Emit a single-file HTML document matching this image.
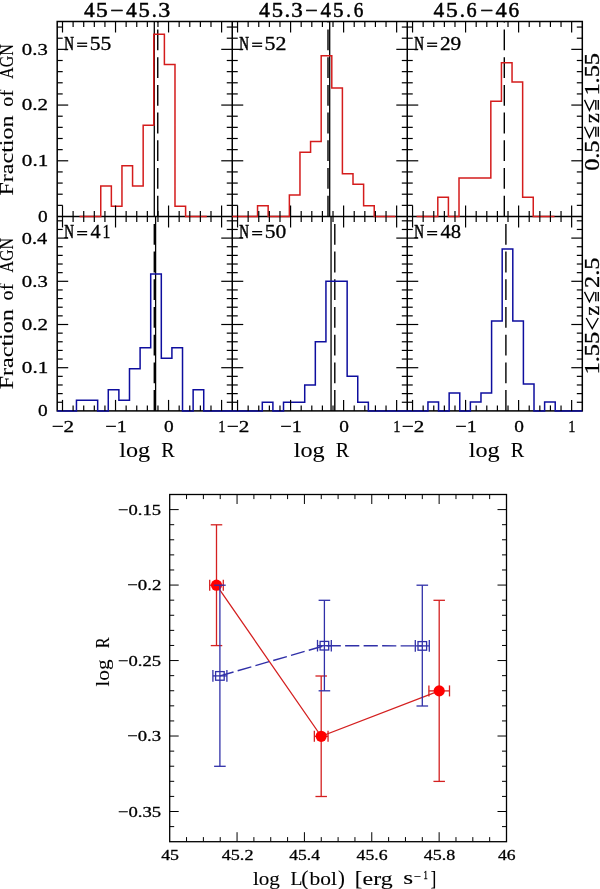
<!DOCTYPE html>
<html><head><meta charset="utf-8"><title>figure</title>
<style>
html,body{margin:0;padding:0;background:#fff;}
body{width:600px;height:889px;overflow:hidden;font-family:"Liberation Serif", serif;}
svg{display:block;will-change:transform;}
</style></head><body>
<svg width="600" height="889" viewBox="0 0 600 889" font-family="Liberation Serif, serif">
<rect x="0" y="0" width="600" height="889" fill="#fff"/>
<rect x="57.2" y="21.5" width="525.1" height="389.4" fill="none" stroke="#000" stroke-width="1.5"/>
<line x1="232.25" y1="21.5" x2="232.25" y2="410.9" stroke="#000" stroke-width="1.5"/>
<line x1="407.25" y1="21.5" x2="407.25" y2="410.9" stroke="#000" stroke-width="1.5"/>
<line x1="57.2" y1="216.5" x2="582.3" y2="216.5" stroke="#000" stroke-width="1.5"/>
<line x1="154.3" y1="216.5" x2="154.3" y2="21.5" stroke="#000" stroke-width="1.3"/>
<line x1="157.75" y1="216.5" x2="157.75" y2="21.5" stroke="#000" stroke-width="1.4" stroke-dasharray="20.8 6.9"/>
<line x1="328" y1="216.5" x2="328" y2="21.5" stroke="#000" stroke-width="1.4" stroke-dasharray="20.8 6.9"/>
<line x1="329.7" y1="216.5" x2="329.7" y2="21.5" stroke="#000" stroke-width="1.3"/>
<line x1="504.3" y1="216.5" x2="504.3" y2="21.5" stroke="#000" stroke-width="1.4" stroke-dasharray="20.8 6.9"/>
<line x1="154.3" y1="410.9" x2="154.3" y2="216.5" stroke="#000" stroke-width="1.4" stroke-dasharray="20.8 6.9"/>
<line x1="155.6" y1="410.9" x2="155.6" y2="216.5" stroke="#000" stroke-width="1.3"/>
<line x1="331.05" y1="410.9" x2="331.05" y2="216.5" stroke="#000" stroke-width="1.3"/>
<line x1="334.8" y1="410.9" x2="334.8" y2="216.5" stroke="#000" stroke-width="1.4" stroke-dasharray="20.8 6.9"/>
<line x1="505.9" y1="410.9" x2="505.9" y2="216.5" stroke="#000" stroke-width="1.4" stroke-dasharray="20.8 6.9"/>
<polyline points="79.54,216.5 100.75,216.5 100.75,186.11 111.36,186.11 111.36,186.11 111.36,206.37 121.96,206.37 121.96,206.37 121.96,165.85 132.57,165.85 132.57,165.85 132.57,186.11 143.17,186.11 143.17,186.11 143.17,125.33 153.78,125.33 153.78,125.33 153.78,34.16 164.39,34.16 164.39,34.16 164.39,64.55 174.99,64.55 174.99,64.55 174.99,206.37 185.6,206.37 185.6,206.37 185.6,216.5 196.2,216.5 196.2,216.5 196.2,216.5 206.81,216.5 206.81,216.5 206.81,216.5" fill="none" stroke="#d41c1c" stroke-width="1.5" stroke-linejoin="miter"/>
<polyline points="232.25,216.5 257.55,216.5 257.55,205.79 268.16,205.79 268.16,205.79 268.16,216.5 278.76,216.5 278.76,216.5 278.76,216.5 289.37,216.5 289.37,216.5 289.37,195.07 299.97,195.07 299.97,195.07 299.97,152.21 310.58,152.21 310.58,152.21 310.58,141.5 321.19,141.5 321.19,141.5 321.19,55.79 331.79,55.79 331.79,55.79 331.79,87.93 342.4,87.93 342.4,87.93 342.4,173.64 353,173.64 353,173.64 353,184.36 363.61,184.36 363.61,184.36 363.61,205.79 374.22,205.79 374.22,205.79 374.22,216.5 384.82,216.5 384.82,216.5 384.82,216.5 395.43,216.5 395.43,216.5 395.43,216.5" fill="none" stroke="#d41c1c" stroke-width="1.5" stroke-linejoin="miter"/>
<polyline points="416.59,216.5 437.8,216.5 437.8,197.29 448.41,197.29 448.41,197.29 448.41,216.5 459.01,216.5 459.01,216.5 459.01,178.08 469.62,178.08 469.62,178.08 469.62,178.08 480.22,178.08 480.22,178.08 480.22,178.08 490.83,178.08 490.83,178.08 490.83,101.23 501.44,101.23 501.44,101.23 501.44,62.81 512.04,62.81 512.04,62.81 512.04,82.02 522.65,82.02 522.65,82.02 522.65,197.29 533.25,197.29 533.25,197.29 533.25,216.5 543.86,216.5 543.86,216.5 543.86,216.5 554.47,216.5 554.47,216.5 554.47,216.5" fill="none" stroke="#d41c1c" stroke-width="1.5" stroke-linejoin="miter"/>
<polyline points="57.2,410.9 76.46,410.9 76.46,400.36 87.07,400.36 87.07,400.36 87.07,400.36 97.67,400.36 97.67,400.36 97.67,410.9 108.28,410.9 108.28,410.9 108.28,389.83 118.88,389.83 118.88,389.83 118.88,400.36 129.49,400.36 129.49,400.36 129.49,368.75 140.1,368.75 140.1,368.75 140.1,347.68 150.7,347.68 150.7,347.68 150.7,273.92 161.31,273.92 161.31,273.92 161.31,358.22 171.91,358.22 171.91,358.22 171.91,347.68 182.52,347.68 182.52,347.68 182.52,410.9 193.13,410.9 193.13,410.9 193.13,389.83 203.73,389.83 203.73,410.9 232.25,410.9" fill="none" stroke="#0e0e9e" stroke-width="1.5" stroke-linejoin="miter"/>
<polyline points="232.25,410.9 262.3,410.9 262.3,402.26 272.91,402.26 272.91,402.26 272.91,410.9 283.51,410.9 283.51,410.9 283.51,402.26 294.12,402.26 294.12,402.26 294.12,402.26 304.72,402.26 304.72,402.26 304.72,384.98 315.33,384.98 315.33,384.98 315.33,341.78 325.94,341.78 325.94,341.78 325.94,281.3 336.54,281.3 336.54,281.3 336.54,281.3 347.15,281.3 347.15,281.3 347.15,376.34 357.75,376.34 357.75,376.34 357.75,402.26 368.36,402.26 368.36,410.9 407.3,410.9" fill="none" stroke="#0e0e9e" stroke-width="1.5" stroke-linejoin="miter"/>
<polyline points="407.25,410.9 427.95,410.9 427.95,401.9 438.56,401.9 438.56,401.9 438.56,410.9 449.16,410.9 449.16,410.9 449.16,392.9 459.77,392.9 459.77,392.9 459.77,410.9 470.37,410.9 470.37,410.9 470.37,401.9 480.98,401.9 480.98,401.9 480.98,392.9 491.59,392.9 491.59,392.9 491.59,320.9 502.19,320.9 502.19,320.9 502.19,248.9 512.8,248.9 512.8,248.9 512.8,320.9 523.4,320.9 523.4,320.9 523.4,383.9 534.01,383.9 534.01,383.9 534.01,410.9 544.62,410.9 544.62,410.9 544.62,401.9 555.22,401.9 555.22,410.9 582.3,410.9" fill="none" stroke="#0e0e9e" stroke-width="1.5" stroke-linejoin="miter"/>
<line x1="62.5" y1="21.5" x2="62.5" y2="32.5" stroke="#000" stroke-width="1.2"/>
<line x1="62.5" y1="216.5" x2="62.5" y2="205.5" stroke="#000" stroke-width="1.2"/>
<line x1="73.11" y1="21.5" x2="73.11" y2="27" stroke="#000" stroke-width="1.2"/>
<line x1="73.11" y1="216.5" x2="73.11" y2="211" stroke="#000" stroke-width="1.2"/>
<line x1="83.72" y1="21.5" x2="83.72" y2="27" stroke="#000" stroke-width="1.2"/>
<line x1="83.72" y1="216.5" x2="83.72" y2="211" stroke="#000" stroke-width="1.2"/>
<line x1="94.32" y1="21.5" x2="94.32" y2="27" stroke="#000" stroke-width="1.2"/>
<line x1="94.32" y1="216.5" x2="94.32" y2="211" stroke="#000" stroke-width="1.2"/>
<line x1="104.93" y1="21.5" x2="104.93" y2="27" stroke="#000" stroke-width="1.2"/>
<line x1="104.93" y1="216.5" x2="104.93" y2="211" stroke="#000" stroke-width="1.2"/>
<line x1="115.53" y1="21.5" x2="115.53" y2="32.5" stroke="#000" stroke-width="1.2"/>
<line x1="115.53" y1="216.5" x2="115.53" y2="205.5" stroke="#000" stroke-width="1.2"/>
<line x1="126.14" y1="21.5" x2="126.14" y2="27" stroke="#000" stroke-width="1.2"/>
<line x1="126.14" y1="216.5" x2="126.14" y2="211" stroke="#000" stroke-width="1.2"/>
<line x1="136.75" y1="21.5" x2="136.75" y2="27" stroke="#000" stroke-width="1.2"/>
<line x1="136.75" y1="216.5" x2="136.75" y2="211" stroke="#000" stroke-width="1.2"/>
<line x1="147.35" y1="21.5" x2="147.35" y2="27" stroke="#000" stroke-width="1.2"/>
<line x1="147.35" y1="216.5" x2="147.35" y2="211" stroke="#000" stroke-width="1.2"/>
<line x1="157.96" y1="21.5" x2="157.96" y2="27" stroke="#000" stroke-width="1.2"/>
<line x1="157.96" y1="216.5" x2="157.96" y2="211" stroke="#000" stroke-width="1.2"/>
<line x1="168.56" y1="21.5" x2="168.56" y2="32.5" stroke="#000" stroke-width="1.2"/>
<line x1="168.56" y1="216.5" x2="168.56" y2="205.5" stroke="#000" stroke-width="1.2"/>
<line x1="179.17" y1="21.5" x2="179.17" y2="27" stroke="#000" stroke-width="1.2"/>
<line x1="179.17" y1="216.5" x2="179.17" y2="211" stroke="#000" stroke-width="1.2"/>
<line x1="189.78" y1="21.5" x2="189.78" y2="27" stroke="#000" stroke-width="1.2"/>
<line x1="189.78" y1="216.5" x2="189.78" y2="211" stroke="#000" stroke-width="1.2"/>
<line x1="200.38" y1="21.5" x2="200.38" y2="27" stroke="#000" stroke-width="1.2"/>
<line x1="200.38" y1="216.5" x2="200.38" y2="211" stroke="#000" stroke-width="1.2"/>
<line x1="210.99" y1="21.5" x2="210.99" y2="27" stroke="#000" stroke-width="1.2"/>
<line x1="210.99" y1="216.5" x2="210.99" y2="211" stroke="#000" stroke-width="1.2"/>
<line x1="221.59" y1="21.5" x2="221.59" y2="32.5" stroke="#000" stroke-width="1.2"/>
<line x1="221.59" y1="216.5" x2="221.59" y2="205.5" stroke="#000" stroke-width="1.2"/>
<line x1="57.2" y1="205.36" x2="62.7" y2="205.36" stroke="#000" stroke-width="1.2"/>
<line x1="232.25" y1="205.36" x2="226.75" y2="205.36" stroke="#000" stroke-width="1.2"/>
<line x1="57.2" y1="194.21" x2="62.7" y2="194.21" stroke="#000" stroke-width="1.2"/>
<line x1="232.25" y1="194.21" x2="226.75" y2="194.21" stroke="#000" stroke-width="1.2"/>
<line x1="57.2" y1="183.07" x2="62.7" y2="183.07" stroke="#000" stroke-width="1.2"/>
<line x1="232.25" y1="183.07" x2="226.75" y2="183.07" stroke="#000" stroke-width="1.2"/>
<line x1="57.2" y1="171.93" x2="62.7" y2="171.93" stroke="#000" stroke-width="1.2"/>
<line x1="232.25" y1="171.93" x2="226.75" y2="171.93" stroke="#000" stroke-width="1.2"/>
<line x1="57.2" y1="160.79" x2="68.2" y2="160.79" stroke="#000" stroke-width="1.2"/>
<line x1="232.25" y1="160.79" x2="221.25" y2="160.79" stroke="#000" stroke-width="1.2"/>
<line x1="57.2" y1="149.64" x2="62.7" y2="149.64" stroke="#000" stroke-width="1.2"/>
<line x1="232.25" y1="149.64" x2="226.75" y2="149.64" stroke="#000" stroke-width="1.2"/>
<line x1="57.2" y1="138.5" x2="62.7" y2="138.5" stroke="#000" stroke-width="1.2"/>
<line x1="232.25" y1="138.5" x2="226.75" y2="138.5" stroke="#000" stroke-width="1.2"/>
<line x1="57.2" y1="127.36" x2="62.7" y2="127.36" stroke="#000" stroke-width="1.2"/>
<line x1="232.25" y1="127.36" x2="226.75" y2="127.36" stroke="#000" stroke-width="1.2"/>
<line x1="57.2" y1="116.21" x2="62.7" y2="116.21" stroke="#000" stroke-width="1.2"/>
<line x1="232.25" y1="116.21" x2="226.75" y2="116.21" stroke="#000" stroke-width="1.2"/>
<line x1="57.2" y1="105.07" x2="68.2" y2="105.07" stroke="#000" stroke-width="1.2"/>
<line x1="232.25" y1="105.07" x2="221.25" y2="105.07" stroke="#000" stroke-width="1.2"/>
<line x1="57.2" y1="93.93" x2="62.7" y2="93.93" stroke="#000" stroke-width="1.2"/>
<line x1="232.25" y1="93.93" x2="226.75" y2="93.93" stroke="#000" stroke-width="1.2"/>
<line x1="57.2" y1="82.79" x2="62.7" y2="82.79" stroke="#000" stroke-width="1.2"/>
<line x1="232.25" y1="82.79" x2="226.75" y2="82.79" stroke="#000" stroke-width="1.2"/>
<line x1="57.2" y1="71.64" x2="62.7" y2="71.64" stroke="#000" stroke-width="1.2"/>
<line x1="232.25" y1="71.64" x2="226.75" y2="71.64" stroke="#000" stroke-width="1.2"/>
<line x1="57.2" y1="60.5" x2="62.7" y2="60.5" stroke="#000" stroke-width="1.2"/>
<line x1="232.25" y1="60.5" x2="226.75" y2="60.5" stroke="#000" stroke-width="1.2"/>
<line x1="57.2" y1="49.36" x2="68.2" y2="49.36" stroke="#000" stroke-width="1.2"/>
<line x1="232.25" y1="49.36" x2="221.25" y2="49.36" stroke="#000" stroke-width="1.2"/>
<line x1="57.2" y1="38.21" x2="62.7" y2="38.21" stroke="#000" stroke-width="1.2"/>
<line x1="232.25" y1="38.21" x2="226.75" y2="38.21" stroke="#000" stroke-width="1.2"/>
<line x1="57.2" y1="27.07" x2="62.7" y2="27.07" stroke="#000" stroke-width="1.2"/>
<line x1="232.25" y1="27.07" x2="226.75" y2="27.07" stroke="#000" stroke-width="1.2"/>
<line x1="237.55" y1="21.5" x2="237.55" y2="32.5" stroke="#000" stroke-width="1.2"/>
<line x1="237.55" y1="216.5" x2="237.55" y2="205.5" stroke="#000" stroke-width="1.2"/>
<line x1="248.16" y1="21.5" x2="248.16" y2="27" stroke="#000" stroke-width="1.2"/>
<line x1="248.16" y1="216.5" x2="248.16" y2="211" stroke="#000" stroke-width="1.2"/>
<line x1="258.76" y1="21.5" x2="258.76" y2="27" stroke="#000" stroke-width="1.2"/>
<line x1="258.76" y1="216.5" x2="258.76" y2="211" stroke="#000" stroke-width="1.2"/>
<line x1="269.37" y1="21.5" x2="269.37" y2="27" stroke="#000" stroke-width="1.2"/>
<line x1="269.37" y1="216.5" x2="269.37" y2="211" stroke="#000" stroke-width="1.2"/>
<line x1="279.98" y1="21.5" x2="279.98" y2="27" stroke="#000" stroke-width="1.2"/>
<line x1="279.98" y1="216.5" x2="279.98" y2="211" stroke="#000" stroke-width="1.2"/>
<line x1="290.58" y1="21.5" x2="290.58" y2="32.5" stroke="#000" stroke-width="1.2"/>
<line x1="290.58" y1="216.5" x2="290.58" y2="205.5" stroke="#000" stroke-width="1.2"/>
<line x1="301.19" y1="21.5" x2="301.19" y2="27" stroke="#000" stroke-width="1.2"/>
<line x1="301.19" y1="216.5" x2="301.19" y2="211" stroke="#000" stroke-width="1.2"/>
<line x1="311.8" y1="21.5" x2="311.8" y2="27" stroke="#000" stroke-width="1.2"/>
<line x1="311.8" y1="216.5" x2="311.8" y2="211" stroke="#000" stroke-width="1.2"/>
<line x1="322.4" y1="21.5" x2="322.4" y2="27" stroke="#000" stroke-width="1.2"/>
<line x1="322.4" y1="216.5" x2="322.4" y2="211" stroke="#000" stroke-width="1.2"/>
<line x1="333.01" y1="21.5" x2="333.01" y2="27" stroke="#000" stroke-width="1.2"/>
<line x1="333.01" y1="216.5" x2="333.01" y2="211" stroke="#000" stroke-width="1.2"/>
<line x1="343.61" y1="21.5" x2="343.61" y2="32.5" stroke="#000" stroke-width="1.2"/>
<line x1="343.61" y1="216.5" x2="343.61" y2="205.5" stroke="#000" stroke-width="1.2"/>
<line x1="354.22" y1="21.5" x2="354.22" y2="27" stroke="#000" stroke-width="1.2"/>
<line x1="354.22" y1="216.5" x2="354.22" y2="211" stroke="#000" stroke-width="1.2"/>
<line x1="364.83" y1="21.5" x2="364.83" y2="27" stroke="#000" stroke-width="1.2"/>
<line x1="364.83" y1="216.5" x2="364.83" y2="211" stroke="#000" stroke-width="1.2"/>
<line x1="375.43" y1="21.5" x2="375.43" y2="27" stroke="#000" stroke-width="1.2"/>
<line x1="375.43" y1="216.5" x2="375.43" y2="211" stroke="#000" stroke-width="1.2"/>
<line x1="386.04" y1="21.5" x2="386.04" y2="27" stroke="#000" stroke-width="1.2"/>
<line x1="386.04" y1="216.5" x2="386.04" y2="211" stroke="#000" stroke-width="1.2"/>
<line x1="396.64" y1="21.5" x2="396.64" y2="32.5" stroke="#000" stroke-width="1.2"/>
<line x1="396.64" y1="216.5" x2="396.64" y2="205.5" stroke="#000" stroke-width="1.2"/>
<line x1="232.25" y1="205.36" x2="237.75" y2="205.36" stroke="#000" stroke-width="1.2"/>
<line x1="407.3" y1="205.36" x2="401.8" y2="205.36" stroke="#000" stroke-width="1.2"/>
<line x1="232.25" y1="194.21" x2="237.75" y2="194.21" stroke="#000" stroke-width="1.2"/>
<line x1="407.3" y1="194.21" x2="401.8" y2="194.21" stroke="#000" stroke-width="1.2"/>
<line x1="232.25" y1="183.07" x2="237.75" y2="183.07" stroke="#000" stroke-width="1.2"/>
<line x1="407.3" y1="183.07" x2="401.8" y2="183.07" stroke="#000" stroke-width="1.2"/>
<line x1="232.25" y1="171.93" x2="237.75" y2="171.93" stroke="#000" stroke-width="1.2"/>
<line x1="407.3" y1="171.93" x2="401.8" y2="171.93" stroke="#000" stroke-width="1.2"/>
<line x1="232.25" y1="160.79" x2="243.25" y2="160.79" stroke="#000" stroke-width="1.2"/>
<line x1="407.3" y1="160.79" x2="396.3" y2="160.79" stroke="#000" stroke-width="1.2"/>
<line x1="232.25" y1="149.64" x2="237.75" y2="149.64" stroke="#000" stroke-width="1.2"/>
<line x1="407.3" y1="149.64" x2="401.8" y2="149.64" stroke="#000" stroke-width="1.2"/>
<line x1="232.25" y1="138.5" x2="237.75" y2="138.5" stroke="#000" stroke-width="1.2"/>
<line x1="407.3" y1="138.5" x2="401.8" y2="138.5" stroke="#000" stroke-width="1.2"/>
<line x1="232.25" y1="127.36" x2="237.75" y2="127.36" stroke="#000" stroke-width="1.2"/>
<line x1="407.3" y1="127.36" x2="401.8" y2="127.36" stroke="#000" stroke-width="1.2"/>
<line x1="232.25" y1="116.21" x2="237.75" y2="116.21" stroke="#000" stroke-width="1.2"/>
<line x1="407.3" y1="116.21" x2="401.8" y2="116.21" stroke="#000" stroke-width="1.2"/>
<line x1="232.25" y1="105.07" x2="243.25" y2="105.07" stroke="#000" stroke-width="1.2"/>
<line x1="407.3" y1="105.07" x2="396.3" y2="105.07" stroke="#000" stroke-width="1.2"/>
<line x1="232.25" y1="93.93" x2="237.75" y2="93.93" stroke="#000" stroke-width="1.2"/>
<line x1="407.3" y1="93.93" x2="401.8" y2="93.93" stroke="#000" stroke-width="1.2"/>
<line x1="232.25" y1="82.79" x2="237.75" y2="82.79" stroke="#000" stroke-width="1.2"/>
<line x1="407.3" y1="82.79" x2="401.8" y2="82.79" stroke="#000" stroke-width="1.2"/>
<line x1="232.25" y1="71.64" x2="237.75" y2="71.64" stroke="#000" stroke-width="1.2"/>
<line x1="407.3" y1="71.64" x2="401.8" y2="71.64" stroke="#000" stroke-width="1.2"/>
<line x1="232.25" y1="60.5" x2="237.75" y2="60.5" stroke="#000" stroke-width="1.2"/>
<line x1="407.3" y1="60.5" x2="401.8" y2="60.5" stroke="#000" stroke-width="1.2"/>
<line x1="232.25" y1="49.36" x2="243.25" y2="49.36" stroke="#000" stroke-width="1.2"/>
<line x1="407.3" y1="49.36" x2="396.3" y2="49.36" stroke="#000" stroke-width="1.2"/>
<line x1="232.25" y1="38.21" x2="237.75" y2="38.21" stroke="#000" stroke-width="1.2"/>
<line x1="407.3" y1="38.21" x2="401.8" y2="38.21" stroke="#000" stroke-width="1.2"/>
<line x1="232.25" y1="27.07" x2="237.75" y2="27.07" stroke="#000" stroke-width="1.2"/>
<line x1="407.3" y1="27.07" x2="401.8" y2="27.07" stroke="#000" stroke-width="1.2"/>
<line x1="412.55" y1="21.5" x2="412.55" y2="32.5" stroke="#000" stroke-width="1.2"/>
<line x1="412.55" y1="216.5" x2="412.55" y2="205.5" stroke="#000" stroke-width="1.2"/>
<line x1="423.16" y1="21.5" x2="423.16" y2="27" stroke="#000" stroke-width="1.2"/>
<line x1="423.16" y1="216.5" x2="423.16" y2="211" stroke="#000" stroke-width="1.2"/>
<line x1="433.76" y1="21.5" x2="433.76" y2="27" stroke="#000" stroke-width="1.2"/>
<line x1="433.76" y1="216.5" x2="433.76" y2="211" stroke="#000" stroke-width="1.2"/>
<line x1="444.37" y1="21.5" x2="444.37" y2="27" stroke="#000" stroke-width="1.2"/>
<line x1="444.37" y1="216.5" x2="444.37" y2="211" stroke="#000" stroke-width="1.2"/>
<line x1="454.98" y1="21.5" x2="454.98" y2="27" stroke="#000" stroke-width="1.2"/>
<line x1="454.98" y1="216.5" x2="454.98" y2="211" stroke="#000" stroke-width="1.2"/>
<line x1="465.58" y1="21.5" x2="465.58" y2="32.5" stroke="#000" stroke-width="1.2"/>
<line x1="465.58" y1="216.5" x2="465.58" y2="205.5" stroke="#000" stroke-width="1.2"/>
<line x1="476.19" y1="21.5" x2="476.19" y2="27" stroke="#000" stroke-width="1.2"/>
<line x1="476.19" y1="216.5" x2="476.19" y2="211" stroke="#000" stroke-width="1.2"/>
<line x1="486.8" y1="21.5" x2="486.8" y2="27" stroke="#000" stroke-width="1.2"/>
<line x1="486.8" y1="216.5" x2="486.8" y2="211" stroke="#000" stroke-width="1.2"/>
<line x1="497.4" y1="21.5" x2="497.4" y2="27" stroke="#000" stroke-width="1.2"/>
<line x1="497.4" y1="216.5" x2="497.4" y2="211" stroke="#000" stroke-width="1.2"/>
<line x1="508.01" y1="21.5" x2="508.01" y2="27" stroke="#000" stroke-width="1.2"/>
<line x1="508.01" y1="216.5" x2="508.01" y2="211" stroke="#000" stroke-width="1.2"/>
<line x1="518.61" y1="21.5" x2="518.61" y2="32.5" stroke="#000" stroke-width="1.2"/>
<line x1="518.61" y1="216.5" x2="518.61" y2="205.5" stroke="#000" stroke-width="1.2"/>
<line x1="529.22" y1="21.5" x2="529.22" y2="27" stroke="#000" stroke-width="1.2"/>
<line x1="529.22" y1="216.5" x2="529.22" y2="211" stroke="#000" stroke-width="1.2"/>
<line x1="539.83" y1="21.5" x2="539.83" y2="27" stroke="#000" stroke-width="1.2"/>
<line x1="539.83" y1="216.5" x2="539.83" y2="211" stroke="#000" stroke-width="1.2"/>
<line x1="550.43" y1="21.5" x2="550.43" y2="27" stroke="#000" stroke-width="1.2"/>
<line x1="550.43" y1="216.5" x2="550.43" y2="211" stroke="#000" stroke-width="1.2"/>
<line x1="561.04" y1="21.5" x2="561.04" y2="27" stroke="#000" stroke-width="1.2"/>
<line x1="561.04" y1="216.5" x2="561.04" y2="211" stroke="#000" stroke-width="1.2"/>
<line x1="571.64" y1="21.5" x2="571.64" y2="32.5" stroke="#000" stroke-width="1.2"/>
<line x1="571.64" y1="216.5" x2="571.64" y2="205.5" stroke="#000" stroke-width="1.2"/>
<line x1="407.25" y1="205.36" x2="412.75" y2="205.36" stroke="#000" stroke-width="1.2"/>
<line x1="582.3" y1="205.36" x2="576.8" y2="205.36" stroke="#000" stroke-width="1.2"/>
<line x1="407.25" y1="194.21" x2="412.75" y2="194.21" stroke="#000" stroke-width="1.2"/>
<line x1="582.3" y1="194.21" x2="576.8" y2="194.21" stroke="#000" stroke-width="1.2"/>
<line x1="407.25" y1="183.07" x2="412.75" y2="183.07" stroke="#000" stroke-width="1.2"/>
<line x1="582.3" y1="183.07" x2="576.8" y2="183.07" stroke="#000" stroke-width="1.2"/>
<line x1="407.25" y1="171.93" x2="412.75" y2="171.93" stroke="#000" stroke-width="1.2"/>
<line x1="582.3" y1="171.93" x2="576.8" y2="171.93" stroke="#000" stroke-width="1.2"/>
<line x1="407.25" y1="160.79" x2="418.25" y2="160.79" stroke="#000" stroke-width="1.2"/>
<line x1="582.3" y1="160.79" x2="571.3" y2="160.79" stroke="#000" stroke-width="1.2"/>
<line x1="407.25" y1="149.64" x2="412.75" y2="149.64" stroke="#000" stroke-width="1.2"/>
<line x1="582.3" y1="149.64" x2="576.8" y2="149.64" stroke="#000" stroke-width="1.2"/>
<line x1="407.25" y1="138.5" x2="412.75" y2="138.5" stroke="#000" stroke-width="1.2"/>
<line x1="582.3" y1="138.5" x2="576.8" y2="138.5" stroke="#000" stroke-width="1.2"/>
<line x1="407.25" y1="127.36" x2="412.75" y2="127.36" stroke="#000" stroke-width="1.2"/>
<line x1="582.3" y1="127.36" x2="576.8" y2="127.36" stroke="#000" stroke-width="1.2"/>
<line x1="407.25" y1="116.21" x2="412.75" y2="116.21" stroke="#000" stroke-width="1.2"/>
<line x1="582.3" y1="116.21" x2="576.8" y2="116.21" stroke="#000" stroke-width="1.2"/>
<line x1="407.25" y1="105.07" x2="418.25" y2="105.07" stroke="#000" stroke-width="1.2"/>
<line x1="582.3" y1="105.07" x2="571.3" y2="105.07" stroke="#000" stroke-width="1.2"/>
<line x1="407.25" y1="93.93" x2="412.75" y2="93.93" stroke="#000" stroke-width="1.2"/>
<line x1="582.3" y1="93.93" x2="576.8" y2="93.93" stroke="#000" stroke-width="1.2"/>
<line x1="407.25" y1="82.79" x2="412.75" y2="82.79" stroke="#000" stroke-width="1.2"/>
<line x1="582.3" y1="82.79" x2="576.8" y2="82.79" stroke="#000" stroke-width="1.2"/>
<line x1="407.25" y1="71.64" x2="412.75" y2="71.64" stroke="#000" stroke-width="1.2"/>
<line x1="582.3" y1="71.64" x2="576.8" y2="71.64" stroke="#000" stroke-width="1.2"/>
<line x1="407.25" y1="60.5" x2="412.75" y2="60.5" stroke="#000" stroke-width="1.2"/>
<line x1="582.3" y1="60.5" x2="576.8" y2="60.5" stroke="#000" stroke-width="1.2"/>
<line x1="407.25" y1="49.36" x2="418.25" y2="49.36" stroke="#000" stroke-width="1.2"/>
<line x1="582.3" y1="49.36" x2="571.3" y2="49.36" stroke="#000" stroke-width="1.2"/>
<line x1="407.25" y1="38.21" x2="412.75" y2="38.21" stroke="#000" stroke-width="1.2"/>
<line x1="582.3" y1="38.21" x2="576.8" y2="38.21" stroke="#000" stroke-width="1.2"/>
<line x1="407.25" y1="27.07" x2="412.75" y2="27.07" stroke="#000" stroke-width="1.2"/>
<line x1="582.3" y1="27.07" x2="576.8" y2="27.07" stroke="#000" stroke-width="1.2"/>
<line x1="62.5" y1="216.5" x2="62.5" y2="227.5" stroke="#000" stroke-width="1.2"/>
<line x1="62.5" y1="410.9" x2="62.5" y2="399.9" stroke="#000" stroke-width="1.2"/>
<line x1="73.11" y1="216.5" x2="73.11" y2="222" stroke="#000" stroke-width="1.2"/>
<line x1="73.11" y1="410.9" x2="73.11" y2="405.4" stroke="#000" stroke-width="1.2"/>
<line x1="83.72" y1="216.5" x2="83.72" y2="222" stroke="#000" stroke-width="1.2"/>
<line x1="83.72" y1="410.9" x2="83.72" y2="405.4" stroke="#000" stroke-width="1.2"/>
<line x1="94.32" y1="216.5" x2="94.32" y2="222" stroke="#000" stroke-width="1.2"/>
<line x1="94.32" y1="410.9" x2="94.32" y2="405.4" stroke="#000" stroke-width="1.2"/>
<line x1="104.93" y1="216.5" x2="104.93" y2="222" stroke="#000" stroke-width="1.2"/>
<line x1="104.93" y1="410.9" x2="104.93" y2="405.4" stroke="#000" stroke-width="1.2"/>
<line x1="115.53" y1="216.5" x2="115.53" y2="227.5" stroke="#000" stroke-width="1.2"/>
<line x1="115.53" y1="410.9" x2="115.53" y2="399.9" stroke="#000" stroke-width="1.2"/>
<line x1="126.14" y1="216.5" x2="126.14" y2="222" stroke="#000" stroke-width="1.2"/>
<line x1="126.14" y1="410.9" x2="126.14" y2="405.4" stroke="#000" stroke-width="1.2"/>
<line x1="136.75" y1="216.5" x2="136.75" y2="222" stroke="#000" stroke-width="1.2"/>
<line x1="136.75" y1="410.9" x2="136.75" y2="405.4" stroke="#000" stroke-width="1.2"/>
<line x1="147.35" y1="216.5" x2="147.35" y2="222" stroke="#000" stroke-width="1.2"/>
<line x1="147.35" y1="410.9" x2="147.35" y2="405.4" stroke="#000" stroke-width="1.2"/>
<line x1="157.96" y1="216.5" x2="157.96" y2="222" stroke="#000" stroke-width="1.2"/>
<line x1="157.96" y1="410.9" x2="157.96" y2="405.4" stroke="#000" stroke-width="1.2"/>
<line x1="168.56" y1="216.5" x2="168.56" y2="227.5" stroke="#000" stroke-width="1.2"/>
<line x1="168.56" y1="410.9" x2="168.56" y2="399.9" stroke="#000" stroke-width="1.2"/>
<line x1="179.17" y1="216.5" x2="179.17" y2="222" stroke="#000" stroke-width="1.2"/>
<line x1="179.17" y1="410.9" x2="179.17" y2="405.4" stroke="#000" stroke-width="1.2"/>
<line x1="189.78" y1="216.5" x2="189.78" y2="222" stroke="#000" stroke-width="1.2"/>
<line x1="189.78" y1="410.9" x2="189.78" y2="405.4" stroke="#000" stroke-width="1.2"/>
<line x1="200.38" y1="216.5" x2="200.38" y2="222" stroke="#000" stroke-width="1.2"/>
<line x1="200.38" y1="410.9" x2="200.38" y2="405.4" stroke="#000" stroke-width="1.2"/>
<line x1="210.99" y1="216.5" x2="210.99" y2="222" stroke="#000" stroke-width="1.2"/>
<line x1="210.99" y1="410.9" x2="210.99" y2="405.4" stroke="#000" stroke-width="1.2"/>
<line x1="221.59" y1="216.5" x2="221.59" y2="227.5" stroke="#000" stroke-width="1.2"/>
<line x1="221.59" y1="410.9" x2="221.59" y2="399.9" stroke="#000" stroke-width="1.2"/>
<line x1="57.2" y1="402.26" x2="62.7" y2="402.26" stroke="#000" stroke-width="1.2"/>
<line x1="232.25" y1="402.26" x2="226.75" y2="402.26" stroke="#000" stroke-width="1.2"/>
<line x1="57.2" y1="393.62" x2="62.7" y2="393.62" stroke="#000" stroke-width="1.2"/>
<line x1="232.25" y1="393.62" x2="226.75" y2="393.62" stroke="#000" stroke-width="1.2"/>
<line x1="57.2" y1="384.98" x2="62.7" y2="384.98" stroke="#000" stroke-width="1.2"/>
<line x1="232.25" y1="384.98" x2="226.75" y2="384.98" stroke="#000" stroke-width="1.2"/>
<line x1="57.2" y1="376.34" x2="62.7" y2="376.34" stroke="#000" stroke-width="1.2"/>
<line x1="232.25" y1="376.34" x2="226.75" y2="376.34" stroke="#000" stroke-width="1.2"/>
<line x1="57.2" y1="367.7" x2="68.2" y2="367.7" stroke="#000" stroke-width="1.2"/>
<line x1="232.25" y1="367.7" x2="221.25" y2="367.7" stroke="#000" stroke-width="1.2"/>
<line x1="57.2" y1="359.06" x2="62.7" y2="359.06" stroke="#000" stroke-width="1.2"/>
<line x1="232.25" y1="359.06" x2="226.75" y2="359.06" stroke="#000" stroke-width="1.2"/>
<line x1="57.2" y1="350.42" x2="62.7" y2="350.42" stroke="#000" stroke-width="1.2"/>
<line x1="232.25" y1="350.42" x2="226.75" y2="350.42" stroke="#000" stroke-width="1.2"/>
<line x1="57.2" y1="341.78" x2="62.7" y2="341.78" stroke="#000" stroke-width="1.2"/>
<line x1="232.25" y1="341.78" x2="226.75" y2="341.78" stroke="#000" stroke-width="1.2"/>
<line x1="57.2" y1="333.14" x2="62.7" y2="333.14" stroke="#000" stroke-width="1.2"/>
<line x1="232.25" y1="333.14" x2="226.75" y2="333.14" stroke="#000" stroke-width="1.2"/>
<line x1="57.2" y1="324.5" x2="68.2" y2="324.5" stroke="#000" stroke-width="1.2"/>
<line x1="232.25" y1="324.5" x2="221.25" y2="324.5" stroke="#000" stroke-width="1.2"/>
<line x1="57.2" y1="315.86" x2="62.7" y2="315.86" stroke="#000" stroke-width="1.2"/>
<line x1="232.25" y1="315.86" x2="226.75" y2="315.86" stroke="#000" stroke-width="1.2"/>
<line x1="57.2" y1="307.22" x2="62.7" y2="307.22" stroke="#000" stroke-width="1.2"/>
<line x1="232.25" y1="307.22" x2="226.75" y2="307.22" stroke="#000" stroke-width="1.2"/>
<line x1="57.2" y1="298.58" x2="62.7" y2="298.58" stroke="#000" stroke-width="1.2"/>
<line x1="232.25" y1="298.58" x2="226.75" y2="298.58" stroke="#000" stroke-width="1.2"/>
<line x1="57.2" y1="289.94" x2="62.7" y2="289.94" stroke="#000" stroke-width="1.2"/>
<line x1="232.25" y1="289.94" x2="226.75" y2="289.94" stroke="#000" stroke-width="1.2"/>
<line x1="57.2" y1="281.3" x2="68.2" y2="281.3" stroke="#000" stroke-width="1.2"/>
<line x1="232.25" y1="281.3" x2="221.25" y2="281.3" stroke="#000" stroke-width="1.2"/>
<line x1="57.2" y1="272.66" x2="62.7" y2="272.66" stroke="#000" stroke-width="1.2"/>
<line x1="232.25" y1="272.66" x2="226.75" y2="272.66" stroke="#000" stroke-width="1.2"/>
<line x1="57.2" y1="264.02" x2="62.7" y2="264.02" stroke="#000" stroke-width="1.2"/>
<line x1="232.25" y1="264.02" x2="226.75" y2="264.02" stroke="#000" stroke-width="1.2"/>
<line x1="57.2" y1="255.38" x2="62.7" y2="255.38" stroke="#000" stroke-width="1.2"/>
<line x1="232.25" y1="255.38" x2="226.75" y2="255.38" stroke="#000" stroke-width="1.2"/>
<line x1="57.2" y1="246.74" x2="62.7" y2="246.74" stroke="#000" stroke-width="1.2"/>
<line x1="232.25" y1="246.74" x2="226.75" y2="246.74" stroke="#000" stroke-width="1.2"/>
<line x1="57.2" y1="238.1" x2="68.2" y2="238.1" stroke="#000" stroke-width="1.2"/>
<line x1="232.25" y1="238.1" x2="221.25" y2="238.1" stroke="#000" stroke-width="1.2"/>
<line x1="57.2" y1="229.46" x2="62.7" y2="229.46" stroke="#000" stroke-width="1.2"/>
<line x1="232.25" y1="229.46" x2="226.75" y2="229.46" stroke="#000" stroke-width="1.2"/>
<line x1="57.2" y1="220.82" x2="62.7" y2="220.82" stroke="#000" stroke-width="1.2"/>
<line x1="232.25" y1="220.82" x2="226.75" y2="220.82" stroke="#000" stroke-width="1.2"/>
<line x1="237.55" y1="216.5" x2="237.55" y2="227.5" stroke="#000" stroke-width="1.2"/>
<line x1="237.55" y1="410.9" x2="237.55" y2="399.9" stroke="#000" stroke-width="1.2"/>
<line x1="248.16" y1="216.5" x2="248.16" y2="222" stroke="#000" stroke-width="1.2"/>
<line x1="248.16" y1="410.9" x2="248.16" y2="405.4" stroke="#000" stroke-width="1.2"/>
<line x1="258.76" y1="216.5" x2="258.76" y2="222" stroke="#000" stroke-width="1.2"/>
<line x1="258.76" y1="410.9" x2="258.76" y2="405.4" stroke="#000" stroke-width="1.2"/>
<line x1="269.37" y1="216.5" x2="269.37" y2="222" stroke="#000" stroke-width="1.2"/>
<line x1="269.37" y1="410.9" x2="269.37" y2="405.4" stroke="#000" stroke-width="1.2"/>
<line x1="279.98" y1="216.5" x2="279.98" y2="222" stroke="#000" stroke-width="1.2"/>
<line x1="279.98" y1="410.9" x2="279.98" y2="405.4" stroke="#000" stroke-width="1.2"/>
<line x1="290.58" y1="216.5" x2="290.58" y2="227.5" stroke="#000" stroke-width="1.2"/>
<line x1="290.58" y1="410.9" x2="290.58" y2="399.9" stroke="#000" stroke-width="1.2"/>
<line x1="301.19" y1="216.5" x2="301.19" y2="222" stroke="#000" stroke-width="1.2"/>
<line x1="301.19" y1="410.9" x2="301.19" y2="405.4" stroke="#000" stroke-width="1.2"/>
<line x1="311.8" y1="216.5" x2="311.8" y2="222" stroke="#000" stroke-width="1.2"/>
<line x1="311.8" y1="410.9" x2="311.8" y2="405.4" stroke="#000" stroke-width="1.2"/>
<line x1="322.4" y1="216.5" x2="322.4" y2="222" stroke="#000" stroke-width="1.2"/>
<line x1="322.4" y1="410.9" x2="322.4" y2="405.4" stroke="#000" stroke-width="1.2"/>
<line x1="333.01" y1="216.5" x2="333.01" y2="222" stroke="#000" stroke-width="1.2"/>
<line x1="333.01" y1="410.9" x2="333.01" y2="405.4" stroke="#000" stroke-width="1.2"/>
<line x1="343.61" y1="216.5" x2="343.61" y2="227.5" stroke="#000" stroke-width="1.2"/>
<line x1="343.61" y1="410.9" x2="343.61" y2="399.9" stroke="#000" stroke-width="1.2"/>
<line x1="354.22" y1="216.5" x2="354.22" y2="222" stroke="#000" stroke-width="1.2"/>
<line x1="354.22" y1="410.9" x2="354.22" y2="405.4" stroke="#000" stroke-width="1.2"/>
<line x1="364.83" y1="216.5" x2="364.83" y2="222" stroke="#000" stroke-width="1.2"/>
<line x1="364.83" y1="410.9" x2="364.83" y2="405.4" stroke="#000" stroke-width="1.2"/>
<line x1="375.43" y1="216.5" x2="375.43" y2="222" stroke="#000" stroke-width="1.2"/>
<line x1="375.43" y1="410.9" x2="375.43" y2="405.4" stroke="#000" stroke-width="1.2"/>
<line x1="386.04" y1="216.5" x2="386.04" y2="222" stroke="#000" stroke-width="1.2"/>
<line x1="386.04" y1="410.9" x2="386.04" y2="405.4" stroke="#000" stroke-width="1.2"/>
<line x1="396.64" y1="216.5" x2="396.64" y2="227.5" stroke="#000" stroke-width="1.2"/>
<line x1="396.64" y1="410.9" x2="396.64" y2="399.9" stroke="#000" stroke-width="1.2"/>
<line x1="232.25" y1="402.26" x2="237.75" y2="402.26" stroke="#000" stroke-width="1.2"/>
<line x1="407.3" y1="402.26" x2="401.8" y2="402.26" stroke="#000" stroke-width="1.2"/>
<line x1="232.25" y1="393.62" x2="237.75" y2="393.62" stroke="#000" stroke-width="1.2"/>
<line x1="407.3" y1="393.62" x2="401.8" y2="393.62" stroke="#000" stroke-width="1.2"/>
<line x1="232.25" y1="384.98" x2="237.75" y2="384.98" stroke="#000" stroke-width="1.2"/>
<line x1="407.3" y1="384.98" x2="401.8" y2="384.98" stroke="#000" stroke-width="1.2"/>
<line x1="232.25" y1="376.34" x2="237.75" y2="376.34" stroke="#000" stroke-width="1.2"/>
<line x1="407.3" y1="376.34" x2="401.8" y2="376.34" stroke="#000" stroke-width="1.2"/>
<line x1="232.25" y1="367.7" x2="243.25" y2="367.7" stroke="#000" stroke-width="1.2"/>
<line x1="407.3" y1="367.7" x2="396.3" y2="367.7" stroke="#000" stroke-width="1.2"/>
<line x1="232.25" y1="359.06" x2="237.75" y2="359.06" stroke="#000" stroke-width="1.2"/>
<line x1="407.3" y1="359.06" x2="401.8" y2="359.06" stroke="#000" stroke-width="1.2"/>
<line x1="232.25" y1="350.42" x2="237.75" y2="350.42" stroke="#000" stroke-width="1.2"/>
<line x1="407.3" y1="350.42" x2="401.8" y2="350.42" stroke="#000" stroke-width="1.2"/>
<line x1="232.25" y1="341.78" x2="237.75" y2="341.78" stroke="#000" stroke-width="1.2"/>
<line x1="407.3" y1="341.78" x2="401.8" y2="341.78" stroke="#000" stroke-width="1.2"/>
<line x1="232.25" y1="333.14" x2="237.75" y2="333.14" stroke="#000" stroke-width="1.2"/>
<line x1="407.3" y1="333.14" x2="401.8" y2="333.14" stroke="#000" stroke-width="1.2"/>
<line x1="232.25" y1="324.5" x2="243.25" y2="324.5" stroke="#000" stroke-width="1.2"/>
<line x1="407.3" y1="324.5" x2="396.3" y2="324.5" stroke="#000" stroke-width="1.2"/>
<line x1="232.25" y1="315.86" x2="237.75" y2="315.86" stroke="#000" stroke-width="1.2"/>
<line x1="407.3" y1="315.86" x2="401.8" y2="315.86" stroke="#000" stroke-width="1.2"/>
<line x1="232.25" y1="307.22" x2="237.75" y2="307.22" stroke="#000" stroke-width="1.2"/>
<line x1="407.3" y1="307.22" x2="401.8" y2="307.22" stroke="#000" stroke-width="1.2"/>
<line x1="232.25" y1="298.58" x2="237.75" y2="298.58" stroke="#000" stroke-width="1.2"/>
<line x1="407.3" y1="298.58" x2="401.8" y2="298.58" stroke="#000" stroke-width="1.2"/>
<line x1="232.25" y1="289.94" x2="237.75" y2="289.94" stroke="#000" stroke-width="1.2"/>
<line x1="407.3" y1="289.94" x2="401.8" y2="289.94" stroke="#000" stroke-width="1.2"/>
<line x1="232.25" y1="281.3" x2="243.25" y2="281.3" stroke="#000" stroke-width="1.2"/>
<line x1="407.3" y1="281.3" x2="396.3" y2="281.3" stroke="#000" stroke-width="1.2"/>
<line x1="232.25" y1="272.66" x2="237.75" y2="272.66" stroke="#000" stroke-width="1.2"/>
<line x1="407.3" y1="272.66" x2="401.8" y2="272.66" stroke="#000" stroke-width="1.2"/>
<line x1="232.25" y1="264.02" x2="237.75" y2="264.02" stroke="#000" stroke-width="1.2"/>
<line x1="407.3" y1="264.02" x2="401.8" y2="264.02" stroke="#000" stroke-width="1.2"/>
<line x1="232.25" y1="255.38" x2="237.75" y2="255.38" stroke="#000" stroke-width="1.2"/>
<line x1="407.3" y1="255.38" x2="401.8" y2="255.38" stroke="#000" stroke-width="1.2"/>
<line x1="232.25" y1="246.74" x2="237.75" y2="246.74" stroke="#000" stroke-width="1.2"/>
<line x1="407.3" y1="246.74" x2="401.8" y2="246.74" stroke="#000" stroke-width="1.2"/>
<line x1="232.25" y1="238.1" x2="243.25" y2="238.1" stroke="#000" stroke-width="1.2"/>
<line x1="407.3" y1="238.1" x2="396.3" y2="238.1" stroke="#000" stroke-width="1.2"/>
<line x1="232.25" y1="229.46" x2="237.75" y2="229.46" stroke="#000" stroke-width="1.2"/>
<line x1="407.3" y1="229.46" x2="401.8" y2="229.46" stroke="#000" stroke-width="1.2"/>
<line x1="232.25" y1="220.82" x2="237.75" y2="220.82" stroke="#000" stroke-width="1.2"/>
<line x1="407.3" y1="220.82" x2="401.8" y2="220.82" stroke="#000" stroke-width="1.2"/>
<line x1="412.55" y1="216.5" x2="412.55" y2="227.5" stroke="#000" stroke-width="1.2"/>
<line x1="412.55" y1="410.9" x2="412.55" y2="399.9" stroke="#000" stroke-width="1.2"/>
<line x1="423.16" y1="216.5" x2="423.16" y2="222" stroke="#000" stroke-width="1.2"/>
<line x1="423.16" y1="410.9" x2="423.16" y2="405.4" stroke="#000" stroke-width="1.2"/>
<line x1="433.76" y1="216.5" x2="433.76" y2="222" stroke="#000" stroke-width="1.2"/>
<line x1="433.76" y1="410.9" x2="433.76" y2="405.4" stroke="#000" stroke-width="1.2"/>
<line x1="444.37" y1="216.5" x2="444.37" y2="222" stroke="#000" stroke-width="1.2"/>
<line x1="444.37" y1="410.9" x2="444.37" y2="405.4" stroke="#000" stroke-width="1.2"/>
<line x1="454.98" y1="216.5" x2="454.98" y2="222" stroke="#000" stroke-width="1.2"/>
<line x1="454.98" y1="410.9" x2="454.98" y2="405.4" stroke="#000" stroke-width="1.2"/>
<line x1="465.58" y1="216.5" x2="465.58" y2="227.5" stroke="#000" stroke-width="1.2"/>
<line x1="465.58" y1="410.9" x2="465.58" y2="399.9" stroke="#000" stroke-width="1.2"/>
<line x1="476.19" y1="216.5" x2="476.19" y2="222" stroke="#000" stroke-width="1.2"/>
<line x1="476.19" y1="410.9" x2="476.19" y2="405.4" stroke="#000" stroke-width="1.2"/>
<line x1="486.8" y1="216.5" x2="486.8" y2="222" stroke="#000" stroke-width="1.2"/>
<line x1="486.8" y1="410.9" x2="486.8" y2="405.4" stroke="#000" stroke-width="1.2"/>
<line x1="497.4" y1="216.5" x2="497.4" y2="222" stroke="#000" stroke-width="1.2"/>
<line x1="497.4" y1="410.9" x2="497.4" y2="405.4" stroke="#000" stroke-width="1.2"/>
<line x1="508.01" y1="216.5" x2="508.01" y2="222" stroke="#000" stroke-width="1.2"/>
<line x1="508.01" y1="410.9" x2="508.01" y2="405.4" stroke="#000" stroke-width="1.2"/>
<line x1="518.61" y1="216.5" x2="518.61" y2="227.5" stroke="#000" stroke-width="1.2"/>
<line x1="518.61" y1="410.9" x2="518.61" y2="399.9" stroke="#000" stroke-width="1.2"/>
<line x1="529.22" y1="216.5" x2="529.22" y2="222" stroke="#000" stroke-width="1.2"/>
<line x1="529.22" y1="410.9" x2="529.22" y2="405.4" stroke="#000" stroke-width="1.2"/>
<line x1="539.83" y1="216.5" x2="539.83" y2="222" stroke="#000" stroke-width="1.2"/>
<line x1="539.83" y1="410.9" x2="539.83" y2="405.4" stroke="#000" stroke-width="1.2"/>
<line x1="550.43" y1="216.5" x2="550.43" y2="222" stroke="#000" stroke-width="1.2"/>
<line x1="550.43" y1="410.9" x2="550.43" y2="405.4" stroke="#000" stroke-width="1.2"/>
<line x1="561.04" y1="216.5" x2="561.04" y2="222" stroke="#000" stroke-width="1.2"/>
<line x1="561.04" y1="410.9" x2="561.04" y2="405.4" stroke="#000" stroke-width="1.2"/>
<line x1="571.64" y1="216.5" x2="571.64" y2="227.5" stroke="#000" stroke-width="1.2"/>
<line x1="571.64" y1="410.9" x2="571.64" y2="399.9" stroke="#000" stroke-width="1.2"/>
<line x1="407.25" y1="402.26" x2="412.75" y2="402.26" stroke="#000" stroke-width="1.2"/>
<line x1="582.3" y1="402.26" x2="576.8" y2="402.26" stroke="#000" stroke-width="1.2"/>
<line x1="407.25" y1="393.62" x2="412.75" y2="393.62" stroke="#000" stroke-width="1.2"/>
<line x1="582.3" y1="393.62" x2="576.8" y2="393.62" stroke="#000" stroke-width="1.2"/>
<line x1="407.25" y1="384.98" x2="412.75" y2="384.98" stroke="#000" stroke-width="1.2"/>
<line x1="582.3" y1="384.98" x2="576.8" y2="384.98" stroke="#000" stroke-width="1.2"/>
<line x1="407.25" y1="376.34" x2="412.75" y2="376.34" stroke="#000" stroke-width="1.2"/>
<line x1="582.3" y1="376.34" x2="576.8" y2="376.34" stroke="#000" stroke-width="1.2"/>
<line x1="407.25" y1="367.7" x2="418.25" y2="367.7" stroke="#000" stroke-width="1.2"/>
<line x1="582.3" y1="367.7" x2="571.3" y2="367.7" stroke="#000" stroke-width="1.2"/>
<line x1="407.25" y1="359.06" x2="412.75" y2="359.06" stroke="#000" stroke-width="1.2"/>
<line x1="582.3" y1="359.06" x2="576.8" y2="359.06" stroke="#000" stroke-width="1.2"/>
<line x1="407.25" y1="350.42" x2="412.75" y2="350.42" stroke="#000" stroke-width="1.2"/>
<line x1="582.3" y1="350.42" x2="576.8" y2="350.42" stroke="#000" stroke-width="1.2"/>
<line x1="407.25" y1="341.78" x2="412.75" y2="341.78" stroke="#000" stroke-width="1.2"/>
<line x1="582.3" y1="341.78" x2="576.8" y2="341.78" stroke="#000" stroke-width="1.2"/>
<line x1="407.25" y1="333.14" x2="412.75" y2="333.14" stroke="#000" stroke-width="1.2"/>
<line x1="582.3" y1="333.14" x2="576.8" y2="333.14" stroke="#000" stroke-width="1.2"/>
<line x1="407.25" y1="324.5" x2="418.25" y2="324.5" stroke="#000" stroke-width="1.2"/>
<line x1="582.3" y1="324.5" x2="571.3" y2="324.5" stroke="#000" stroke-width="1.2"/>
<line x1="407.25" y1="315.86" x2="412.75" y2="315.86" stroke="#000" stroke-width="1.2"/>
<line x1="582.3" y1="315.86" x2="576.8" y2="315.86" stroke="#000" stroke-width="1.2"/>
<line x1="407.25" y1="307.22" x2="412.75" y2="307.22" stroke="#000" stroke-width="1.2"/>
<line x1="582.3" y1="307.22" x2="576.8" y2="307.22" stroke="#000" stroke-width="1.2"/>
<line x1="407.25" y1="298.58" x2="412.75" y2="298.58" stroke="#000" stroke-width="1.2"/>
<line x1="582.3" y1="298.58" x2="576.8" y2="298.58" stroke="#000" stroke-width="1.2"/>
<line x1="407.25" y1="289.94" x2="412.75" y2="289.94" stroke="#000" stroke-width="1.2"/>
<line x1="582.3" y1="289.94" x2="576.8" y2="289.94" stroke="#000" stroke-width="1.2"/>
<line x1="407.25" y1="281.3" x2="418.25" y2="281.3" stroke="#000" stroke-width="1.2"/>
<line x1="582.3" y1="281.3" x2="571.3" y2="281.3" stroke="#000" stroke-width="1.2"/>
<line x1="407.25" y1="272.66" x2="412.75" y2="272.66" stroke="#000" stroke-width="1.2"/>
<line x1="582.3" y1="272.66" x2="576.8" y2="272.66" stroke="#000" stroke-width="1.2"/>
<line x1="407.25" y1="264.02" x2="412.75" y2="264.02" stroke="#000" stroke-width="1.2"/>
<line x1="582.3" y1="264.02" x2="576.8" y2="264.02" stroke="#000" stroke-width="1.2"/>
<line x1="407.25" y1="255.38" x2="412.75" y2="255.38" stroke="#000" stroke-width="1.2"/>
<line x1="582.3" y1="255.38" x2="576.8" y2="255.38" stroke="#000" stroke-width="1.2"/>
<line x1="407.25" y1="246.74" x2="412.75" y2="246.74" stroke="#000" stroke-width="1.2"/>
<line x1="582.3" y1="246.74" x2="576.8" y2="246.74" stroke="#000" stroke-width="1.2"/>
<line x1="407.25" y1="238.1" x2="418.25" y2="238.1" stroke="#000" stroke-width="1.2"/>
<line x1="582.3" y1="238.1" x2="571.3" y2="238.1" stroke="#000" stroke-width="1.2"/>
<line x1="407.25" y1="229.46" x2="412.75" y2="229.46" stroke="#000" stroke-width="1.2"/>
<line x1="582.3" y1="229.46" x2="576.8" y2="229.46" stroke="#000" stroke-width="1.2"/>
<line x1="407.25" y1="220.82" x2="412.75" y2="220.82" stroke="#000" stroke-width="1.2"/>
<line x1="582.3" y1="220.82" x2="576.8" y2="220.82" stroke="#000" stroke-width="1.2"/>
<text x="84.08" y="16.7" font-size="20.6" textLength="10.76" lengthAdjust="spacingAndGlyphs" fill="#000" stroke="#000" stroke-width="0.5">4</text>
<text x="96.13" y="16.7" font-size="20.6" textLength="11.79" lengthAdjust="spacingAndGlyphs" fill="#000" stroke="#000" stroke-width="0.5">5</text>
<text x="110.32" y="16.7" font-size="20.6" textLength="13.33" lengthAdjust="spacingAndGlyphs" fill="#000" stroke="#000" stroke-width="0.5">−</text>
<text x="126.08" y="16.7" font-size="20.6" textLength="10.7" lengthAdjust="spacingAndGlyphs" fill="#000" stroke="#000" stroke-width="0.5">4</text>
<text x="138.54" y="16.7" font-size="20.6" textLength="11.3" lengthAdjust="spacingAndGlyphs" fill="#000" stroke="#000" stroke-width="0.5">5</text>
<text x="151.81" y="16.7" font-size="20.6" textLength="5.08" lengthAdjust="spacingAndGlyphs" fill="#000" stroke="#000" stroke-width="0.5">.</text>
<text x="158.3" y="16.7" font-size="20.6" textLength="11.98" lengthAdjust="spacingAndGlyphs" fill="#000" stroke="#000" stroke-width="0.5">3</text>
<text x="258.93" y="16.7" font-size="20.6" textLength="10.86" lengthAdjust="spacingAndGlyphs" fill="#000" stroke="#000" stroke-width="0.5">4</text>
<text x="271.84" y="16.7" font-size="20.6" textLength="11.3" lengthAdjust="spacingAndGlyphs" fill="#000" stroke="#000" stroke-width="0.5">5</text>
<text x="284.44" y="16.7" font-size="20.6" textLength="5.71" lengthAdjust="spacingAndGlyphs" fill="#000" stroke="#000" stroke-width="0.5">.</text>
<text x="291.35" y="16.7" font-size="20.6" textLength="11.5" lengthAdjust="spacingAndGlyphs" fill="#000" stroke="#000" stroke-width="0.5">3</text>
<text x="305.25" y="16.7" font-size="20.6" textLength="12.48" lengthAdjust="spacingAndGlyphs" fill="#000" stroke="#000" stroke-width="0.5">−</text>
<text x="320.54" y="16.7" font-size="20.6" textLength="10.54" lengthAdjust="spacingAndGlyphs" fill="#000" stroke="#000" stroke-width="0.5">4</text>
<text x="333.02" y="16.7" font-size="20.6" textLength="10.55" lengthAdjust="spacingAndGlyphs" fill="#000" stroke="#000" stroke-width="0.5">5</text>
<text x="346.32" y="16.7" font-size="20.6" textLength="4.65" lengthAdjust="spacingAndGlyphs" fill="#000" stroke="#000" stroke-width="0.5">.</text>
<text x="353.73" y="16.7" font-size="20.6" textLength="9.6" lengthAdjust="spacingAndGlyphs" fill="#000" stroke="#000" stroke-width="0.5">6</text>
<text x="433.58" y="16.7" font-size="20.6" textLength="10.7" lengthAdjust="spacingAndGlyphs" fill="#000" stroke="#000" stroke-width="0.5">4</text>
<text x="445.98" y="16.7" font-size="20.6" textLength="11.79" lengthAdjust="spacingAndGlyphs" fill="#000" stroke="#000" stroke-width="0.5">5</text>
<text x="459.68" y="16.7" font-size="20.6" textLength="5.18" lengthAdjust="spacingAndGlyphs" fill="#000" stroke="#000" stroke-width="0.5">.</text>
<text x="466.48" y="16.7" font-size="20.6" textLength="10.12" lengthAdjust="spacingAndGlyphs" fill="#000" stroke="#000" stroke-width="0.5">6</text>
<text x="480.35" y="16.7" font-size="20.6" textLength="13.03" lengthAdjust="spacingAndGlyphs" fill="#000" stroke="#000" stroke-width="0.5">−</text>
<text x="495.61" y="16.7" font-size="20.6" textLength="11.19" lengthAdjust="spacingAndGlyphs" fill="#000" stroke="#000" stroke-width="0.5">4</text>
<text x="508.54" y="16.7" font-size="20.6" textLength="10.59" lengthAdjust="spacingAndGlyphs" fill="#000" stroke="#000" stroke-width="0.5">6</text>
<text x="64.16" y="50" font-size="19.2" textLength="9.69" lengthAdjust="spacingAndGlyphs" fill="#000" stroke="#000" stroke-width="0.6">N</text>
<line x1="77.15" y1="43.25" x2="87.15" y2="43.25" stroke="#000" stroke-width="1.35"/>
<line x1="77.15" y1="46.25" x2="87.15" y2="46.25" stroke="#000" stroke-width="1.35"/>
<text x="89.65" y="50" font-size="19.2" textLength="21.54" lengthAdjust="spacingAndGlyphs" fill="#000" stroke="#000" stroke-width="0.3">55</text>
<text x="239.16" y="50" font-size="19.2" textLength="9.69" lengthAdjust="spacingAndGlyphs" fill="#000" stroke="#000" stroke-width="0.6">N</text>
<line x1="252.15" y1="43.25" x2="262.15" y2="43.25" stroke="#000" stroke-width="1.35"/>
<line x1="252.15" y1="46.25" x2="262.15" y2="46.25" stroke="#000" stroke-width="1.35"/>
<text x="264.63" y="50" font-size="19.2" textLength="21.93" lengthAdjust="spacingAndGlyphs" fill="#000" stroke="#000" stroke-width="0.3">52</text>
<text x="414.16" y="50" font-size="19.2" textLength="9.69" lengthAdjust="spacingAndGlyphs" fill="#000" stroke="#000" stroke-width="0.6">N</text>
<line x1="427.15" y1="43.25" x2="437.15" y2="43.25" stroke="#000" stroke-width="1.35"/>
<line x1="427.15" y1="46.25" x2="437.15" y2="46.25" stroke="#000" stroke-width="1.35"/>
<text x="439.97" y="50" font-size="19.2" textLength="21.26" lengthAdjust="spacingAndGlyphs" fill="#000" stroke="#000" stroke-width="0.3">29</text>
<text x="64.16" y="238.4" font-size="19.2" textLength="9.69" lengthAdjust="spacingAndGlyphs" fill="#000" stroke="#000" stroke-width="0.6">N</text>
<line x1="77.15" y1="231.65" x2="87.15" y2="231.65" stroke="#000" stroke-width="1.35"/>
<line x1="77.15" y1="234.65" x2="87.15" y2="234.65" stroke="#000" stroke-width="1.35"/>
<text x="90.51" y="238.4" font-size="19.2" textLength="10.11" lengthAdjust="spacingAndGlyphs" fill="#000" stroke="#000" stroke-width="0.3">4</text>
<text x="102.53" y="238.4" font-size="19.2" textLength="7.81" lengthAdjust="spacingAndGlyphs" fill="#000" stroke="#000" stroke-width="0.3">1</text>
<text x="239.16" y="238.4" font-size="19.2" textLength="9.69" lengthAdjust="spacingAndGlyphs" fill="#000" stroke="#000" stroke-width="0.6">N</text>
<line x1="252.15" y1="231.65" x2="262.15" y2="231.65" stroke="#000" stroke-width="1.35"/>
<line x1="252.15" y1="234.65" x2="262.15" y2="234.65" stroke="#000" stroke-width="1.35"/>
<text x="264.65" y="238.4" font-size="19.2" textLength="21.52" lengthAdjust="spacingAndGlyphs" fill="#000" stroke="#000" stroke-width="0.3">50</text>
<text x="414.16" y="238.4" font-size="19.2" textLength="9.69" lengthAdjust="spacingAndGlyphs" fill="#000" stroke="#000" stroke-width="0.6">N</text>
<line x1="427.15" y1="231.65" x2="437.15" y2="231.65" stroke="#000" stroke-width="1.35"/>
<line x1="427.15" y1="234.65" x2="437.15" y2="234.65" stroke="#000" stroke-width="1.35"/>
<text x="440.5" y="238.4" font-size="19.2" textLength="20.64" lengthAdjust="spacingAndGlyphs" fill="#000" stroke="#000" stroke-width="0.3">48</text>
<text x="38.01" y="221.9" font-size="17.5" textLength="9.67" lengthAdjust="spacingAndGlyphs" fill="#000" stroke="#000" stroke-width="0.3">0</text>
<text x="21.85" y="166.19" font-size="17.5" textLength="26.37" lengthAdjust="spacingAndGlyphs" fill="#000" stroke="#000" stroke-width="0.3">0.1</text>
<text x="21.85" y="110.47" font-size="17.5" textLength="26.26" lengthAdjust="spacingAndGlyphs" fill="#000" stroke="#000" stroke-width="0.3">0.2</text>
<text x="21.86" y="54.76" font-size="17.5" textLength="25.9" lengthAdjust="spacingAndGlyphs" fill="#000" stroke="#000" stroke-width="0.3">0.3</text>
<text x="38.01" y="416.3" font-size="17.5" textLength="9.67" lengthAdjust="spacingAndGlyphs" fill="#000" stroke="#000" stroke-width="0.3">0</text>
<text x="21.85" y="373.1" font-size="17.5" textLength="26.37" lengthAdjust="spacingAndGlyphs" fill="#000" stroke="#000" stroke-width="0.3">0.1</text>
<text x="21.85" y="329.9" font-size="17.5" textLength="26.26" lengthAdjust="spacingAndGlyphs" fill="#000" stroke="#000" stroke-width="0.3">0.2</text>
<text x="21.86" y="286.7" font-size="17.5" textLength="25.9" lengthAdjust="spacingAndGlyphs" fill="#000" stroke="#000" stroke-width="0.3">0.3</text>
<text x="21.88" y="243.5" font-size="17.5" textLength="25.39" lengthAdjust="spacingAndGlyphs" fill="#000" stroke="#000" stroke-width="0.3">0.4</text>
<text x="51.7" y="431.8" font-size="17.2" textLength="22.52" lengthAdjust="spacingAndGlyphs" fill="#000" stroke="#000" stroke-width="0.3">−2</text>
<text x="105.33" y="431.8" font-size="17.2" textLength="21.41" lengthAdjust="spacingAndGlyphs" fill="#000" stroke="#000" stroke-width="0.3">−1</text>
<text x="164.13" y="431.8" font-size="17.2" textLength="9.67" lengthAdjust="spacingAndGlyphs" fill="#000" stroke="#000" stroke-width="0.3">0</text>
<text x="218.17" y="431.8" font-size="17.2" textLength="7.24" lengthAdjust="spacingAndGlyphs" fill="#000" stroke="#000" stroke-width="0.3">1</text>
<text x="226.75" y="431.8" font-size="17.2" textLength="22.52" lengthAdjust="spacingAndGlyphs" fill="#000" stroke="#000" stroke-width="0.3">−2</text>
<text x="280.38" y="431.8" font-size="17.2" textLength="21.41" lengthAdjust="spacingAndGlyphs" fill="#000" stroke="#000" stroke-width="0.3">−1</text>
<text x="339.18" y="431.8" font-size="17.2" textLength="9.67" lengthAdjust="spacingAndGlyphs" fill="#000" stroke="#000" stroke-width="0.3">0</text>
<text x="393.22" y="431.8" font-size="17.2" textLength="7.24" lengthAdjust="spacingAndGlyphs" fill="#000" stroke="#000" stroke-width="0.3">1</text>
<text x="401.75" y="431.8" font-size="17.2" textLength="22.52" lengthAdjust="spacingAndGlyphs" fill="#000" stroke="#000" stroke-width="0.3">−2</text>
<text x="455.38" y="431.8" font-size="17.2" textLength="21.41" lengthAdjust="spacingAndGlyphs" fill="#000" stroke="#000" stroke-width="0.3">−1</text>
<text x="514.18" y="431.8" font-size="17.2" textLength="9.67" lengthAdjust="spacingAndGlyphs" fill="#000" stroke="#000" stroke-width="0.3">0</text>
<text x="568.22" y="431.8" font-size="17.2" textLength="7.24" lengthAdjust="spacingAndGlyphs" fill="#000" stroke="#000" stroke-width="0.3">1</text>
<text x="119.32" y="456.6" font-size="21.3" textLength="30.89" lengthAdjust="spacingAndGlyphs" fill="#000" stroke="#000" stroke-width="0.1">log</text>
<text x="161.37" y="456.6" font-size="21.3" textLength="13.41" lengthAdjust="spacingAndGlyphs" fill="#000" stroke="#000" stroke-width="0.1">R</text>
<text x="293.82" y="456.6" font-size="21.3" textLength="30.89" lengthAdjust="spacingAndGlyphs" fill="#000" stroke="#000" stroke-width="0.1">log</text>
<text x="335.87" y="456.6" font-size="21.3" textLength="13.41" lengthAdjust="spacingAndGlyphs" fill="#000" stroke="#000" stroke-width="0.1">R</text>
<text x="468.82" y="456.6" font-size="21.3" textLength="30.89" lengthAdjust="spacingAndGlyphs" fill="#000" stroke="#000" stroke-width="0.1">log</text>
<text x="510.87" y="456.6" font-size="21.3" textLength="13.41" lengthAdjust="spacingAndGlyphs" fill="#000" stroke="#000" stroke-width="0.1">R</text>
<g transform="translate(13.2,195) rotate(-90)">
<text x="-0.64" y="0" font-size="18" textLength="80.26" lengthAdjust="spacingAndGlyphs" fill="#000" stroke="#000" stroke-width="0.1">Fraction</text>
<text x="88.38" y="0" font-size="18" textLength="16.87" lengthAdjust="spacingAndGlyphs" fill="#000" stroke="#000" stroke-width="0.1">of</text>
<text x="116.29" y="0" font-size="18" textLength="34.62" lengthAdjust="spacingAndGlyphs" fill="#000" stroke="#000" stroke-width="0.1">AGN</text>
</g>
<g transform="translate(13.2,388.75) rotate(-90)">
<text x="-0.64" y="0" font-size="18" textLength="80.26" lengthAdjust="spacingAndGlyphs" fill="#000" stroke="#000" stroke-width="0.1">Fraction</text>
<text x="88.38" y="0" font-size="18" textLength="16.87" lengthAdjust="spacingAndGlyphs" fill="#000" stroke="#000" stroke-width="0.1">of</text>
<text x="116.29" y="0" font-size="18" textLength="34.62" lengthAdjust="spacingAndGlyphs" fill="#000" stroke="#000" stroke-width="0.1">AGN</text>
</g>
<g transform="translate(598.6,170.1) rotate(-90)">
<text x="-0.78" y="0" font-size="21" textLength="30.37" lengthAdjust="spacingAndGlyphs" fill="#000" stroke="#000" stroke-width="0.3">0.5</text>
</g>
<path d="M584.5,126.8 L589.4,137.4 L594.3,126.8 M595.8,126.8 L595.8,136.8 M598.3,126.8 L598.3,136.8" fill="none" stroke="#000" stroke-width="1.35" stroke-linejoin="miter"/>
<g transform="translate(598.6,122.6) rotate(-90)">
<text x="-0.44" y="0" font-size="21" textLength="9.81" lengthAdjust="spacingAndGlyphs" fill="#000" stroke="#000" stroke-width="0.3">z</text>
</g>
<path d="M584.5,99.9 L589.4,110.4 L594.3,99.9 M595.8,99.9 L595.8,109.8 M598.3,99.9 L598.3,109.8" fill="none" stroke="#000" stroke-width="1.35" stroke-linejoin="miter"/>
<g transform="translate(598.6,93.6) rotate(-90)">
<text x="-1.99" y="0" font-size="21" textLength="42.59" lengthAdjust="spacingAndGlyphs" fill="#000" stroke="#000" stroke-width="0.3">1.55</text>
</g>
<g transform="translate(598.6,372.5) rotate(-90)">
<text x="-1.99" y="0" font-size="21" textLength="42.59" lengthAdjust="spacingAndGlyphs" fill="#000" stroke="#000" stroke-width="0.3">1.55</text>
</g>
<path d="M586.2,318 L592.25,328.6 L598.3,318" fill="none" stroke="#000" stroke-width="1.35" stroke-linejoin="miter"/>
<g transform="translate(598.6,315) rotate(-90)">
<text x="-0.44" y="0" font-size="21" textLength="9.69" lengthAdjust="spacingAndGlyphs" fill="#000" stroke="#000" stroke-width="0.3">z</text>
</g>
<path d="M584.5,291.9 L589.4,301.8 L594.3,291.9 M595.8,291.9 L595.8,301.2 M598.3,291.9 L598.3,301.2" fill="none" stroke="#000" stroke-width="1.35" stroke-linejoin="miter"/>
<g transform="translate(598.6,287.2) rotate(-90)">
<text x="-0.93" y="0" font-size="21" textLength="30.63" lengthAdjust="spacingAndGlyphs" fill="#000" stroke="#000" stroke-width="0.3">2.5</text>
</g>
<line x1="186.54" y1="494.5" x2="186.54" y2="499.1" stroke="#000" stroke-width="1"/>
<line x1="186.54" y1="841.7" x2="186.54" y2="837.1" stroke="#000" stroke-width="1"/>
<line x1="203.38" y1="494.5" x2="203.38" y2="499.1" stroke="#000" stroke-width="1"/>
<line x1="203.38" y1="841.7" x2="203.38" y2="837.1" stroke="#000" stroke-width="1"/>
<line x1="220.22" y1="494.5" x2="220.22" y2="499.1" stroke="#000" stroke-width="1"/>
<line x1="220.22" y1="841.7" x2="220.22" y2="837.1" stroke="#000" stroke-width="1"/>
<line x1="237.06" y1="494.5" x2="237.06" y2="504" stroke="#000" stroke-width="1"/>
<line x1="237.06" y1="841.7" x2="237.06" y2="832.2" stroke="#000" stroke-width="1"/>
<line x1="253.9" y1="494.5" x2="253.9" y2="499.1" stroke="#000" stroke-width="1"/>
<line x1="253.9" y1="841.7" x2="253.9" y2="837.1" stroke="#000" stroke-width="1"/>
<line x1="270.74" y1="494.5" x2="270.74" y2="499.1" stroke="#000" stroke-width="1"/>
<line x1="270.74" y1="841.7" x2="270.74" y2="837.1" stroke="#000" stroke-width="1"/>
<line x1="287.58" y1="494.5" x2="287.58" y2="499.1" stroke="#000" stroke-width="1"/>
<line x1="287.58" y1="841.7" x2="287.58" y2="837.1" stroke="#000" stroke-width="1"/>
<line x1="304.42" y1="494.5" x2="304.42" y2="504" stroke="#000" stroke-width="1"/>
<line x1="304.42" y1="841.7" x2="304.42" y2="832.2" stroke="#000" stroke-width="1"/>
<line x1="321.26" y1="494.5" x2="321.26" y2="499.1" stroke="#000" stroke-width="1"/>
<line x1="321.26" y1="841.7" x2="321.26" y2="837.1" stroke="#000" stroke-width="1"/>
<line x1="338.1" y1="494.5" x2="338.1" y2="499.1" stroke="#000" stroke-width="1"/>
<line x1="338.1" y1="841.7" x2="338.1" y2="837.1" stroke="#000" stroke-width="1"/>
<line x1="354.94" y1="494.5" x2="354.94" y2="499.1" stroke="#000" stroke-width="1"/>
<line x1="354.94" y1="841.7" x2="354.94" y2="837.1" stroke="#000" stroke-width="1"/>
<line x1="371.78" y1="494.5" x2="371.78" y2="504" stroke="#000" stroke-width="1"/>
<line x1="371.78" y1="841.7" x2="371.78" y2="832.2" stroke="#000" stroke-width="1"/>
<line x1="388.62" y1="494.5" x2="388.62" y2="499.1" stroke="#000" stroke-width="1"/>
<line x1="388.62" y1="841.7" x2="388.62" y2="837.1" stroke="#000" stroke-width="1"/>
<line x1="405.46" y1="494.5" x2="405.46" y2="499.1" stroke="#000" stroke-width="1"/>
<line x1="405.46" y1="841.7" x2="405.46" y2="837.1" stroke="#000" stroke-width="1"/>
<line x1="422.3" y1="494.5" x2="422.3" y2="499.1" stroke="#000" stroke-width="1"/>
<line x1="422.3" y1="841.7" x2="422.3" y2="837.1" stroke="#000" stroke-width="1"/>
<line x1="439.14" y1="494.5" x2="439.14" y2="504" stroke="#000" stroke-width="1"/>
<line x1="439.14" y1="841.7" x2="439.14" y2="832.2" stroke="#000" stroke-width="1"/>
<line x1="455.98" y1="494.5" x2="455.98" y2="499.1" stroke="#000" stroke-width="1"/>
<line x1="455.98" y1="841.7" x2="455.98" y2="837.1" stroke="#000" stroke-width="1"/>
<line x1="472.82" y1="494.5" x2="472.82" y2="499.1" stroke="#000" stroke-width="1"/>
<line x1="472.82" y1="841.7" x2="472.82" y2="837.1" stroke="#000" stroke-width="1"/>
<line x1="489.66" y1="494.5" x2="489.66" y2="499.1" stroke="#000" stroke-width="1"/>
<line x1="489.66" y1="841.7" x2="489.66" y2="837.1" stroke="#000" stroke-width="1"/>
<line x1="169.7" y1="509.6" x2="178.7" y2="509.6" stroke="#000" stroke-width="1"/>
<line x1="506.5" y1="509.6" x2="497.5" y2="509.6" stroke="#000" stroke-width="1"/>
<line x1="169.7" y1="524.69" x2="174.2" y2="524.69" stroke="#000" stroke-width="1"/>
<line x1="506.5" y1="524.69" x2="502" y2="524.69" stroke="#000" stroke-width="1"/>
<line x1="169.7" y1="539.79" x2="174.2" y2="539.79" stroke="#000" stroke-width="1"/>
<line x1="506.5" y1="539.79" x2="502" y2="539.79" stroke="#000" stroke-width="1"/>
<line x1="169.7" y1="554.88" x2="174.2" y2="554.88" stroke="#000" stroke-width="1"/>
<line x1="506.5" y1="554.88" x2="502" y2="554.88" stroke="#000" stroke-width="1"/>
<line x1="169.7" y1="569.98" x2="174.2" y2="569.98" stroke="#000" stroke-width="1"/>
<line x1="506.5" y1="569.98" x2="502" y2="569.98" stroke="#000" stroke-width="1"/>
<line x1="169.7" y1="585.07" x2="178.7" y2="585.07" stroke="#000" stroke-width="1"/>
<line x1="506.5" y1="585.07" x2="497.5" y2="585.07" stroke="#000" stroke-width="1"/>
<line x1="169.7" y1="600.17" x2="174.2" y2="600.17" stroke="#000" stroke-width="1"/>
<line x1="506.5" y1="600.17" x2="502" y2="600.17" stroke="#000" stroke-width="1"/>
<line x1="169.7" y1="615.27" x2="174.2" y2="615.27" stroke="#000" stroke-width="1"/>
<line x1="506.5" y1="615.27" x2="502" y2="615.27" stroke="#000" stroke-width="1"/>
<line x1="169.7" y1="630.36" x2="174.2" y2="630.36" stroke="#000" stroke-width="1"/>
<line x1="506.5" y1="630.36" x2="502" y2="630.36" stroke="#000" stroke-width="1"/>
<line x1="169.7" y1="645.46" x2="174.2" y2="645.46" stroke="#000" stroke-width="1"/>
<line x1="506.5" y1="645.46" x2="502" y2="645.46" stroke="#000" stroke-width="1"/>
<line x1="169.7" y1="660.55" x2="178.7" y2="660.55" stroke="#000" stroke-width="1"/>
<line x1="506.5" y1="660.55" x2="497.5" y2="660.55" stroke="#000" stroke-width="1"/>
<line x1="169.7" y1="675.65" x2="174.2" y2="675.65" stroke="#000" stroke-width="1"/>
<line x1="506.5" y1="675.65" x2="502" y2="675.65" stroke="#000" stroke-width="1"/>
<line x1="169.7" y1="690.74" x2="174.2" y2="690.74" stroke="#000" stroke-width="1"/>
<line x1="506.5" y1="690.74" x2="502" y2="690.74" stroke="#000" stroke-width="1"/>
<line x1="169.7" y1="705.84" x2="174.2" y2="705.84" stroke="#000" stroke-width="1"/>
<line x1="506.5" y1="705.84" x2="502" y2="705.84" stroke="#000" stroke-width="1"/>
<line x1="169.7" y1="720.93" x2="174.2" y2="720.93" stroke="#000" stroke-width="1"/>
<line x1="506.5" y1="720.93" x2="502" y2="720.93" stroke="#000" stroke-width="1"/>
<line x1="169.7" y1="736.03" x2="178.7" y2="736.03" stroke="#000" stroke-width="1"/>
<line x1="506.5" y1="736.03" x2="497.5" y2="736.03" stroke="#000" stroke-width="1"/>
<line x1="169.7" y1="751.13" x2="174.2" y2="751.13" stroke="#000" stroke-width="1"/>
<line x1="506.5" y1="751.13" x2="502" y2="751.13" stroke="#000" stroke-width="1"/>
<line x1="169.7" y1="766.22" x2="174.2" y2="766.22" stroke="#000" stroke-width="1"/>
<line x1="506.5" y1="766.22" x2="502" y2="766.22" stroke="#000" stroke-width="1"/>
<line x1="169.7" y1="781.32" x2="174.2" y2="781.32" stroke="#000" stroke-width="1"/>
<line x1="506.5" y1="781.32" x2="502" y2="781.32" stroke="#000" stroke-width="1"/>
<line x1="169.7" y1="796.41" x2="174.2" y2="796.41" stroke="#000" stroke-width="1"/>
<line x1="506.5" y1="796.41" x2="502" y2="796.41" stroke="#000" stroke-width="1"/>
<line x1="169.7" y1="811.51" x2="178.7" y2="811.51" stroke="#000" stroke-width="1"/>
<line x1="506.5" y1="811.51" x2="497.5" y2="811.51" stroke="#000" stroke-width="1"/>
<line x1="169.7" y1="826.6" x2="174.2" y2="826.6" stroke="#000" stroke-width="1"/>
<line x1="506.5" y1="826.6" x2="502" y2="826.6" stroke="#000" stroke-width="1"/>
<rect x="169.7" y="494.5" width="336.8" height="347.2" fill="none" stroke="#000" stroke-width="1.3"/>
<text x="118.13" y="514.8" font-size="15.4" textLength="42.95" lengthAdjust="spacingAndGlyphs" fill="#000" stroke="#000" stroke-width="0.3">−0.15</text>
<text x="127.21" y="590.27" font-size="15.4" textLength="34.18" lengthAdjust="spacingAndGlyphs" fill="#000" stroke="#000" stroke-width="0.3">−0.2</text>
<text x="118.02" y="665.75" font-size="15.4" textLength="43.05" lengthAdjust="spacingAndGlyphs" fill="#000" stroke="#000" stroke-width="0.3">−0.25</text>
<text x="127.22" y="741.23" font-size="15.4" textLength="33.86" lengthAdjust="spacingAndGlyphs" fill="#000" stroke="#000" stroke-width="0.3">−0.3</text>
<text x="117.92" y="816.71" font-size="15.4" textLength="43.16" lengthAdjust="spacingAndGlyphs" fill="#000" stroke="#000" stroke-width="0.3">−0.35</text>
<text x="161.15" y="860.1" font-size="15.4" textLength="17.85" lengthAdjust="spacingAndGlyphs" fill="#000" stroke="#000" stroke-width="0.3">45</text>
<text x="221.71" y="860.1" font-size="15.4" textLength="31.76" lengthAdjust="spacingAndGlyphs" fill="#000" stroke="#000" stroke-width="0.3">45.2</text>
<text x="289.28" y="860.1" font-size="15.4" textLength="30.62" lengthAdjust="spacingAndGlyphs" fill="#000" stroke="#000" stroke-width="0.3">45.4</text>
<text x="356.53" y="860.1" font-size="15.4" textLength="31.08" lengthAdjust="spacingAndGlyphs" fill="#000" stroke="#000" stroke-width="0.3">45.6</text>
<text x="423.74" y="860.1" font-size="15.4" textLength="31.54" lengthAdjust="spacingAndGlyphs" fill="#000" stroke="#000" stroke-width="0.3">45.8</text>
<text x="498.01" y="860.1" font-size="15.4" textLength="17.57" lengthAdjust="spacingAndGlyphs" fill="#000" stroke="#000" stroke-width="0.3">46</text>
<text x="252.93" y="885" font-size="18" textLength="27.03" lengthAdjust="spacingAndGlyphs" fill="#000" stroke="#000" stroke-width="0.1">log</text>
<text x="290.49" y="885" font-size="18" textLength="11.94" lengthAdjust="spacingAndGlyphs" fill="#000" stroke="#000" stroke-width="0.1">L</text>
<text x="301.19" y="885" font-size="21.5" textLength="7.26" lengthAdjust="spacingAndGlyphs" fill="#000" stroke="#000" stroke-width="0.1">(</text>
<text x="309.45" y="885" font-size="18" textLength="27.43" lengthAdjust="spacingAndGlyphs" fill="#000" stroke="#000" stroke-width="0.1">bol</text>
<text x="337.98" y="885" font-size="21.5" textLength="6.87" lengthAdjust="spacingAndGlyphs" fill="#000" stroke="#000" stroke-width="0.1">)</text>
<text x="354.65" y="885" font-size="21.5" textLength="7.63" lengthAdjust="spacingAndGlyphs" fill="#000" stroke="#000" stroke-width="0.1">[</text>
<text x="362.63" y="885" font-size="18" textLength="30.07" lengthAdjust="spacingAndGlyphs" fill="#000" stroke="#000" stroke-width="0.1">erg</text>
<text x="403.31" y="884.3" font-size="18" textLength="9.85" lengthAdjust="spacingAndGlyphs" fill="#000" stroke="#000" stroke-width="0.1">s</text>
<text x="413.84" y="879.6" font-size="11" textLength="6.91" lengthAdjust="spacingAndGlyphs" fill="#000" stroke="#000" stroke-width="0.3">−</text>
<text x="423.4" y="879.3" font-size="11.5" textLength="4.26" lengthAdjust="spacingAndGlyphs" fill="#000" stroke="#000" stroke-width="0.3">1</text>
<text x="430.42" y="885" font-size="21.5" textLength="5.83" lengthAdjust="spacingAndGlyphs" fill="#000" stroke="#000" stroke-width="0.1">]</text>
<g transform="translate(108.6,686.2) rotate(-90)">
<text x="-0.38" y="0" font-size="19" textLength="27.23" lengthAdjust="spacingAndGlyphs" fill="#000" stroke="#000" stroke-width="0.1">log</text>
<text x="37.88" y="0" font-size="19" textLength="10.89" lengthAdjust="spacingAndGlyphs" fill="#000" stroke="#000" stroke-width="0.1">R</text>
</g>
<line x1="216.5" y1="524.8" x2="216.5" y2="645.6" stroke="#d42020" stroke-width="1.3"/>
<line x1="210.75" y1="524.8" x2="222.25" y2="524.8" stroke="#d42020" stroke-width="1.3"/>
<line x1="210.75" y1="645.6" x2="222.25" y2="645.6" stroke="#d42020" stroke-width="1.3"/>
<line x1="209.7" y1="585.2" x2="223.3" y2="585.2" stroke="#d42020" stroke-width="1.3"/>
<line x1="209.7" y1="579.7" x2="209.7" y2="590.7" stroke="#d42020" stroke-width="1.3"/>
<line x1="223.3" y1="579.7" x2="223.3" y2="590.7" stroke="#d42020" stroke-width="1.3"/>
<line x1="321.2" y1="676" x2="321.2" y2="796.5" stroke="#d42020" stroke-width="1.3"/>
<line x1="315.45" y1="676" x2="326.95" y2="676" stroke="#d42020" stroke-width="1.3"/>
<line x1="315.45" y1="796.5" x2="326.95" y2="796.5" stroke="#d42020" stroke-width="1.3"/>
<line x1="314.35" y1="736.3" x2="328.05" y2="736.3" stroke="#d42020" stroke-width="1.3"/>
<line x1="314.35" y1="730.8" x2="314.35" y2="741.8" stroke="#d42020" stroke-width="1.3"/>
<line x1="328.05" y1="730.8" x2="328.05" y2="741.8" stroke="#d42020" stroke-width="1.3"/>
<line x1="439.2" y1="600.3" x2="439.2" y2="781.4" stroke="#d42020" stroke-width="1.3"/>
<line x1="433.45" y1="600.3" x2="444.95" y2="600.3" stroke="#d42020" stroke-width="1.3"/>
<line x1="433.45" y1="781.4" x2="444.95" y2="781.4" stroke="#d42020" stroke-width="1.3"/>
<line x1="428.9" y1="690.9" x2="449.5" y2="690.9" stroke="#d42020" stroke-width="1.3"/>
<line x1="428.9" y1="685.4" x2="428.9" y2="696.4" stroke="#d42020" stroke-width="1.3"/>
<line x1="449.5" y1="685.4" x2="449.5" y2="696.4" stroke="#d42020" stroke-width="1.3"/>
<polyline points="216.5,585.2 321.2,736.3 439.2,690.9" fill="none" stroke="#d42020" stroke-width="1.3"/>
<circle cx="216.5" cy="585.2" r="5.6" fill="#ff0000"/>
<circle cx="321.2" cy="736.3" r="5.6" fill="#ff0000"/>
<circle cx="439.2" cy="690.9" r="5.6" fill="#ff0000"/>
<line x1="219.9" y1="585.2" x2="219.9" y2="766.3" stroke="#3030a8" stroke-width="1.3"/>
<line x1="214.1" y1="585.2" x2="225.7" y2="585.2" stroke="#3030a8" stroke-width="1.3"/>
<line x1="214.1" y1="766.3" x2="225.7" y2="766.3" stroke="#3030a8" stroke-width="1.3"/>
<line x1="212.9" y1="675.9" x2="226.9" y2="675.9" stroke="#3030a8" stroke-width="1.3"/>
<line x1="212.9" y1="670.1" x2="212.9" y2="681.7" stroke="#3030a8" stroke-width="1.3"/>
<line x1="226.9" y1="670.1" x2="226.9" y2="681.7" stroke="#3030a8" stroke-width="1.3"/>
<line x1="324.4" y1="600.3" x2="324.4" y2="690.8" stroke="#3030a8" stroke-width="1.3"/>
<line x1="318.6" y1="600.3" x2="330.2" y2="600.3" stroke="#3030a8" stroke-width="1.3"/>
<line x1="318.6" y1="690.8" x2="330.2" y2="690.8" stroke="#3030a8" stroke-width="1.3"/>
<line x1="317.5" y1="645.7" x2="331.3" y2="645.7" stroke="#3030a8" stroke-width="1.3"/>
<line x1="317.5" y1="639.9" x2="317.5" y2="651.5" stroke="#3030a8" stroke-width="1.3"/>
<line x1="331.3" y1="639.9" x2="331.3" y2="651.5" stroke="#3030a8" stroke-width="1.3"/>
<line x1="422.3" y1="585.2" x2="422.3" y2="706" stroke="#3030a8" stroke-width="1.3"/>
<line x1="416.5" y1="585.2" x2="428.1" y2="585.2" stroke="#3030a8" stroke-width="1.3"/>
<line x1="416.5" y1="706" x2="428.1" y2="706" stroke="#3030a8" stroke-width="1.3"/>
<line x1="415.3" y1="645.9" x2="429.3" y2="645.9" stroke="#3030a8" stroke-width="1.3"/>
<line x1="415.3" y1="640.1" x2="415.3" y2="651.7" stroke="#3030a8" stroke-width="1.3"/>
<line x1="429.3" y1="640.1" x2="429.3" y2="651.7" stroke="#3030a8" stroke-width="1.3"/>
<polyline points="219.9,675.9 324.4,645.7 422.3,645.9" fill="none" stroke="#3030a8" stroke-width="1.4" stroke-dasharray="14.2 4.3"/>
<rect x="215.6" y="671.6" width="8.6" height="8.6" fill="none" stroke="#3030a8" stroke-width="1.3"/>
<rect x="320.1" y="641.4" width="8.6" height="8.6" fill="none" stroke="#3030a8" stroke-width="1.3"/>
<rect x="418" y="641.6" width="8.6" height="8.6" fill="none" stroke="#3030a8" stroke-width="1.3"/>
</svg>
</body></html>
